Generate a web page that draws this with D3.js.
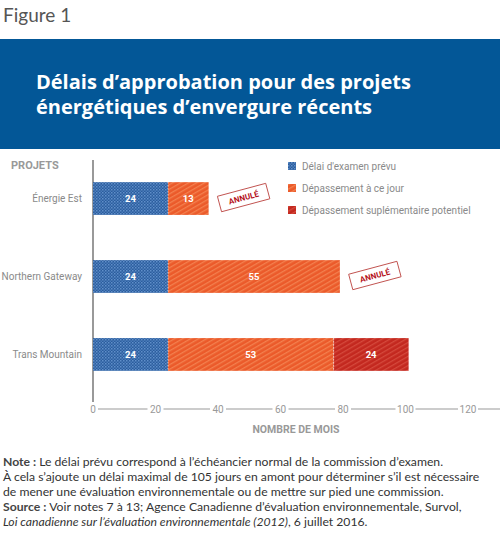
<!DOCTYPE html>
<html><head><meta charset="utf-8">
<script src="https://cdn.jsdelivr.net/npm/d3@7"></script>
<style>
body{margin:0;background:#fff;}
svg{display:block;}
</style></head>
<body>
<script>
const categories = ["Énergie Est", "Northern Gateway", "Trans Mountain"];
const seriesNames = ["Délai d'examen prévu", "Dépassement à ce jour", "Dépassement suplémentaire potentiel"];
const prevu = [24, 24, 24];
const depasse = [13, 55, 53];
const potentiel = [0, 0, 24];
const annule = [true, true, false];
const ticks = [0, 20, 40, 60, 80, 100, 120];

const W = 500, H = 534;
const svg = d3.select("body").append("svg").attr("width", W).attr("height", H);
const defs = svg.append("defs");

function stripe(id, base, line){
  const p = defs.append("pattern").attr("id", id).attr("patternUnits","userSpaceOnUse")
    .attr("width",4).attr("height",4).attr("patternTransform","rotate(-30)");
  p.append("rect").attr("width",4).attr("height",4).attr("fill",base);
  p.append("rect").attr("width",4).attr("height",1.3).attr("fill",line);
}
const pb = defs.append("pattern").attr("id","pBlue").attr("patternUnits","userSpaceOnUse").attr("width",3).attr("height",3);
pb.append("rect").attr("width",3).attr("height",3).attr("fill","#2c5d9d");
pb.append("rect").attr("width",1.5).attr("height",1.5).attr("fill","#5f8fca");
pb.append("rect").attr("x",1.5).attr("y",1.5).attr("width",1.5).attr("height",1.5).attr("fill","#4a7cbb");
stripe("pOrange", "#eb5a2a", "#f3804f");
stripe("pRed", "#c3281f", "#d5493c");
const fills = ["url(#pBlue)", "url(#pOrange)", "url(#pRed)"];

// Header
svg.append("text").attr("x",3).attr("y",22).attr("font-family","Lato, sans-serif")
  .attr("font-size",19).attr("fill","#555").text("Figure 1");
svg.append("rect").attr("x",0).attr("y",39).attr("width",W).attr("height",110).attr("fill","#035797");
const title = svg.append("text").attr("font-family","'Open Sans', sans-serif").attr("font-weight","bold")
  .attr("font-size",20).attr("fill","#fff");
title.append("tspan").attr("x",36).attr("y",89).text("Délais d’approbation pour des projets");
title.append("tspan").attr("x",36).attr("y",114).text("énergétiques d’envergure récents");

// Scales
const x = d3.scaleLinear().domain([0,120]).range([93,468]);
const y = d3.scaleBand().domain(categories).range([158,395]).paddingInner(0.58).paddingOuter(0.31);

const font = "Roboto, sans-serif";
const gray = "#999";

// Axis
const axisY = 409;
svg.append("line").attr("x1",x(0)).attr("x2",x(0)).attr("y1",160).attr("y2",402)
  .attr("stroke","#999").attr("stroke-width",2);
svg.append("line").attr("x1",x(0)+5).attr("x2",W).attr("y1",axisY).attr("y2",axisY)
  .attr("stroke","#999").attr("stroke-width",1);
const tg = svg.append("g").selectAll("g").data(ticks).join("g");
tg.append("rect").attr("x",d=>x(d)-(d===0?6:(d>=100?10:8))).attr("y",axisY-6)
  .attr("width",d=>d>=100?20:(d===0?11:16)).attr("height",12).attr("fill","#fff");
tg.append("text").attr("x",d=>x(d)).attr("y",axisY+3.5).attr("text-anchor","middle")
  .attr("font-family",font).attr("font-size",10).attr("fill",gray).text(d=>d);
svg.append("text").attr("x",296).attr("y",433).attr("text-anchor","middle").attr("font-family",font)
  .attr("font-weight","bold").attr("font-size",10.5).attr("fill",gray).text("NOMBRE DE MOIS");

svg.append("text").attr("x",11).attr("y",169).attr("font-family",font).attr("font-weight","bold")
  .attr("font-size",11).attr("fill",gray).text("PROJETS");

// Category labels
svg.append("g").selectAll("text").data(categories).join("text")
  .attr("x",82).attr("y",d=>y(d)+y.bandwidth()/2+3.5).attr("text-anchor","end")
  .attr("font-family",font).attr("font-size",10).attr("fill","#8a8a8a").text(d=>d);

// Stacked data
const rows = categories.map((c,i)=>({cat:c, v:[prevu[i], depasse[i], potentiel[i]]}));
const segs = [];
rows.forEach(r=>{ let acc=0; r.v.forEach((v,k)=>{ if(v>0) segs.push({cat:r.cat,k,v,x0:acc,x1:acc+v}); acc+=v; }); });

const bars = svg.append("g");
bars.selectAll("rect").data(segs).join("rect")
  .attr("x",d=>x(d.x0)).attr("y",d=>y(d.cat)).attr("width",d=>x(d.x1)-x(d.x0))
  .attr("height",y.bandwidth()).attr("fill",d=>fills[d.k]);
bars.selectAll("line").data(segs.filter(d=>d.x0>0)).join("line")
  .attr("x1",d=>x(d.x0)).attr("x2",d=>x(d.x0)).attr("y1",d=>y(d.cat)).attr("y2",d=>y(d.cat)+y.bandwidth())
  .attr("stroke","#fff").attr("stroke-width",0.8).attr("stroke-dasharray","1.5,1.5").attr("opacity",0.8);
bars.selectAll("text").data(segs).join("text")
  .attr("x",d=>(x(d.x0)+x(d.x1))/2).attr("y",d=>y(d.cat)+y.bandwidth()/2+3.5)
  .attr("text-anchor","middle").attr("font-family",font).attr("font-weight","bold")
  .attr("font-size",9.5).attr("fill","#fff").text(d=>d.v);

// ANNULÉ stamps
rows.forEach((r,i)=>{
  if(!annule[i]) return;
  const end = x(r.v[0]+r.v[1]+r.v[2]);
  const cx = end + 35, cy = y(r.cat)+y.bandwidth()/2 - 1;
  const g = svg.append("g").attr("transform",`translate(${cx},${cy}) rotate(-15)`);
  g.append("rect").attr("x",-25).attr("y",-8).attr("width",50).attr("height",16)
    .attr("fill","#fff").attr("stroke","#c0504d").attr("stroke-width",0.9);
  g.append("text").attr("x",0).attr("y",3).attr("text-anchor","middle").attr("font-family",font)
    .attr("font-weight","bold").attr("font-size",8).attr("fill","#b5121b").text("ANNULÉ");
});

// Legend
const lg = svg.append("g").selectAll("g").data(seriesNames).join("g")
  .attr("transform",(d,i)=>`translate(288,${162+i*22})`);
lg.append("rect").attr("width",8).attr("height",8).attr("fill",(d,i)=>fills[i]);
lg.append("text").attr("x",14).attr("y",8).attr("font-family",font).attr("font-size",10)
  .attr("fill","#8a8a8a").text(d=>d);

// Notes
const nf = "Lato, sans-serif";
const notes = svg.append("text").attr("font-family",nf).attr("font-size",12.2).attr("fill","#333");
let t = notes.append("tspan").attr("x",3).attr("y",466);
t.append("tspan").attr("font-weight","bold").attr("fill","#444").text("Note : ");
t.append("tspan").text("Le délai prévu correspond à l’échéancier normal de la commission d’examen.");
notes.append("tspan").attr("x",3).attr("y",481).text("À cela s’ajoute un délai maximal de 105 jours en amont pour déterminer s’il est nécessaire");
notes.append("tspan").attr("x",3).attr("y",496).text("de mener une évaluation environnementale ou de mettre sur pied une commission.");
t = notes.append("tspan").attr("x",3).attr("y",511);
t.append("tspan").attr("font-weight","bold").attr("fill","#444").text("Source : ");
t.append("tspan").text("Voir notes 7 à 13; Agence Canadienne d’évaluation environnementale, Survol,");
t = notes.append("tspan").attr("x",3).attr("y",526);
t.append("tspan").attr("font-style","italic").text("Loi canadienne sur l’évaluation environnementale (2012)");
t.append("tspan").text(", 6 juillet 2016.");
</script>
</body></html>
